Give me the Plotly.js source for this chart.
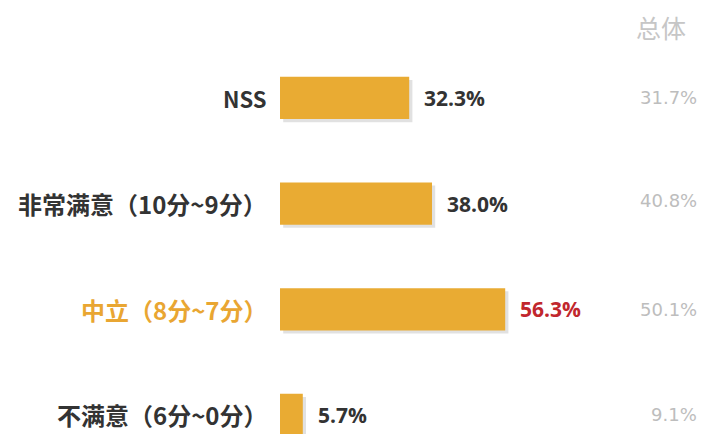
<!DOCTYPE html>
<html><head><meta charset="utf-8">
<script src="https://cdn.plot.ly/plotly-3.0.1.min.js"></script>
<style>html,body{margin:0;padding:0;background:#fff}#chart{width:703px;height:434px}</style>
</head><body><div id="chart"></div>
<script>
const categories = ["NSS", "非常满意（10分~9分）", "中立（8分~7分）", "不满意（6分~0分）"];
const values = [32.3, 38.0, 56.3, 5.7];
const valueLabels = ["32.3%", "38.0%", "56.3%", "5.7%"];
const overallHeader = "总体";
const overallLabels = ["31.7%", "40.8%", "50.1%", "9.1%"];
const labelColors = ["#333333", "#333333", "#E9A632", "#333333"];
const valueColors = ["#333333", "#333333", "#C1272D", "#333333"];

const barColor = "#E9AB33";
const catFont = "'Noto Sans CJK SC', 'Open Sans', sans-serif";

const traces = [
  { type: "bar", orientation: "h", y: categories, x: values, base: 0.8,
    width: 0.4, offset: -0.17, marker: { color: "rgba(90,90,90,0.18)" },
    hoverinfo: "skip", showlegend: false },
  { type: "bar", orientation: "h", y: categories, x: values,
    width: 0.4, offset: -0.2, marker: { color: barColor },
    hoverinfo: "skip", showlegend: false }
];

const annotations = [];
categories.forEach((c, i) => {
  annotations.push({ x: 0, y: c, xref: "x", yref: "y", text: "<b>" + c + "</b>",
    xanchor: "right", yanchor: "middle", xshift: -11, showarrow: false,
    font: { family: catFont, size: i === 0 ? 22 : 24, color: labelColors[i] } });
  annotations.push({ x: values[i], y: c, xref: "x", yref: "y", text: "<b>" + valueLabels[i] + "</b>",
    xanchor: "left", yanchor: "middle", xshift: 13, showarrow: false,
    font: { family: "'Open Sans', sans-serif", size: 21, color: valueColors[i] } });
  annotations.push({ x: 1, y: c, xref: "paper", yref: "y", text: overallLabels[i],
    xanchor: "right", yanchor: "middle", xshift: -1, yshift: i === 1 ? 3 : 0, showarrow: false,
    font: { family: "'DejaVu Sans', sans-serif", size: 18, color: "#BDBDBD" } });
});
annotations.push({ x: 1, y: 1, xref: "paper", yref: "paper", text: overallHeader,
  xanchor: "right", yanchor: "middle", xshift: -12, yshift: 18, showarrow: false,
  font: { family: catFont, size: 25, color: "#C6C6C6" } });

const layout = {
  width: 703, height: 434,
  margin: { l: 280, r: 3, t: 45, b: 0 },
  paper_bgcolor: "#ffffff", plot_bgcolor: "#ffffff",
  barmode: "overlay",
  showlegend: false,
  xaxis: { range: [0, 105], showgrid: false, zeroline: false, showticklabels: false, fixedrange: true },
  yaxis: { type: "category", range: [3.18, -0.5], showgrid: false, zeroline: false,
    showticklabels: false, ticks: "", fixedrange: true },
  annotations: annotations
};

Plotly.newPlot("chart", traces, layout, { displayModeBar: false, staticPlot: true });
</script></body></html>
